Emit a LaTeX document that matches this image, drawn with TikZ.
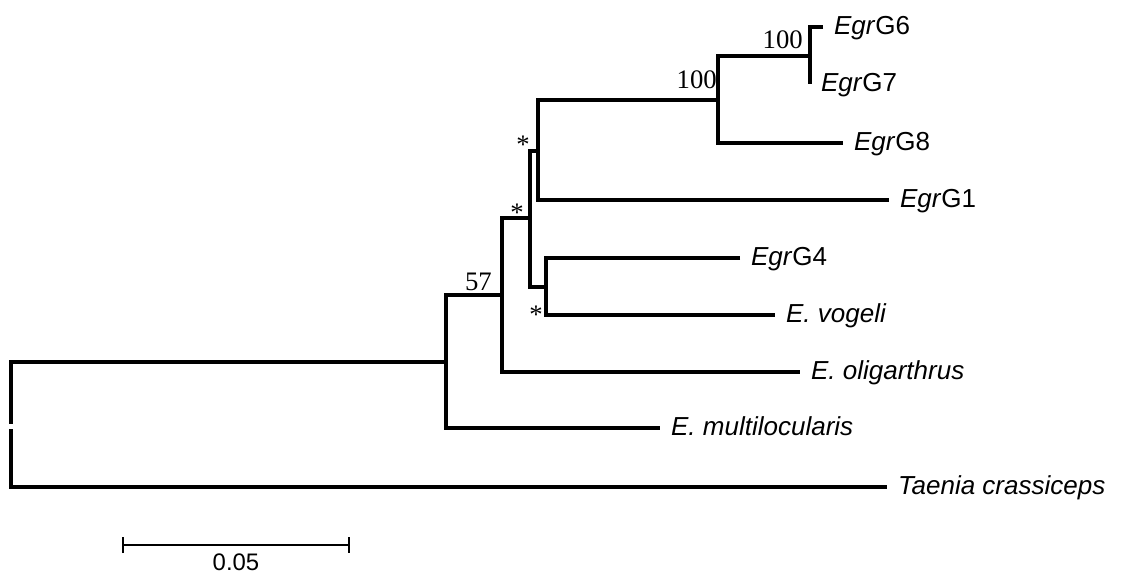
\documentclass[tikz,border=0pt]{standalone}
\usepackage{fontspec}
\setmainfont{Liberation Serif}
\newfontfamily\arialfont{Liberation Sans}
\usetikzlibrary{arrows.meta}

\begin{document}
\begin{tikzpicture}[x=0.025cm, y=-0.025cm,
	branch/.style={line width=2.5pt},
	taxon/.style={anchor=base west, inner sep=0pt, xshift=0.27cm, yshift=-0.175cm,
		font=\arialfont\fontsize{18.5}{20}\selectfont},
	boot/.style={anchor=base east, inner sep=0pt, font=\fontsize{19}{20}\selectfont},
	star/.style={anchor=base, inner sep=0pt, font=\fontsize{19}{20}\selectfont}]
	\useasboundingbox (0,0) rectangle (1123,575);

	% inner nodes (x of the split, y where the branch comes in)
	\coordinate (G) at (810,56);
	\coordinate (E) at (718,100);
	\coordinate (D) at (538,151);
	\coordinate (F) at (546,287);
	\coordinate (C) at (530,218);
	\coordinate (B) at (502,295);
	\coordinate (A) at (446,362);
	\coordinate (rtop) at (11,424);
	\coordinate (rbot) at (11,429);

	% tips
	\coordinate (g6) at (823,27);
	\coordinate (g7) at (810,84);
	\coordinate (g8) at (843,143);
	\coordinate (g1) at (889,200);
	\coordinate (g4) at (740,258);
	\coordinate (vog) at (775,315);
	\coordinate (oli) at (800,372);
	\coordinate (mul) at (660,428);
	\coordinate (tae) at (887,487);

	\begin{scope}[branch]
		\draw (g6) -| (G) |- (g7);
		\draw (G) -| (E) |- (g8);
		\draw (E) -| (D) |- (g1);
		\draw (g4) -| (F) |- (vog);
		\draw (D) -| (C) |- (F);
		\draw (C) -| (B) |- (oli);
		\draw (B) -| (A) |- (mul);
		\draw (A) -| (rtop);
		\draw (rbot) |- (tae);
	\end{scope}

	\node[taxon] (lg6) at (g6) {\textit{Egr}G6};
	\node[taxon] (lg7) at (g7) {\textit{Egr}G7};
	\node[taxon] (lg8) at (g8) {\textit{Egr}G8};
	\node[taxon] (lg1) at (g1) {\textit{Egr}G1};
	\node[taxon] (lg4) at (g4) {\textit{Egr}G4};
	\node[taxon] (lvog) at (vog) {\textit{E. vogeli}};
	\node[taxon] (loli) at (oli) {\textit{E. oligarthrus}};
	\node[taxon] (lmul) at (mul) {\textit{E. multilocularis}};
	\node[taxon] (ltae) at (tae) {\textit{Taenia crassiceps}};

	% support values
	\node[boot] (bG) at (803,48) {100};
	\node[boot] (bE) at (717,88) {100};
	\node[boot] (bB) at (492,290) {57};
	\node[star] (sD) at (523,153) {*};
	\node[star] (sC) at (517,221) {*};
	\node[star] (sF) at (536,323) {*};

	% scale
	\coordinate (s1) at (122,545);
	\coordinate (s2) at (350,545);
	\draw[line width=1.3pt, {Bar[width=0.4cm]}-{Bar[width=0.4cm]}] (s1) -- (s2);
	\node[anchor=base, inner sep=0pt, font=\arialfont\fontsize{17}{20}\selectfont] (scl) at (236,570) {0.05};
\end{tikzpicture}
\end{document}
